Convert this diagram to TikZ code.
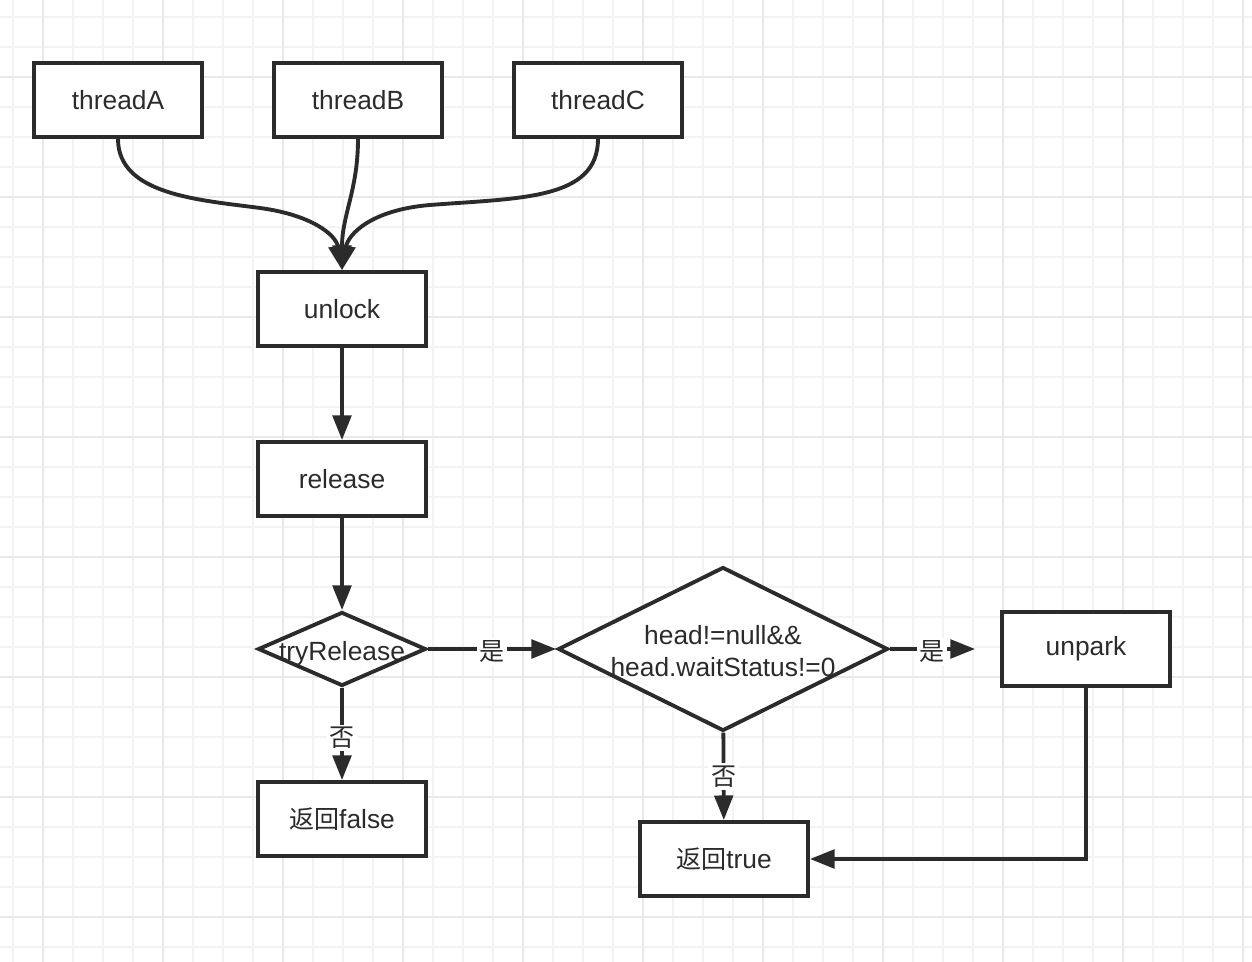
\documentclass[tikz,border=0pt]{standalone}
\usepackage{fontspec}
\setmainfont{Liberation Sans}
\newfontfamily\cjk[Scale=0.95]{Noto Sans CJK SC}
\usetikzlibrary{arrows.meta,shapes.geometric}
\definecolor{ink}{HTML}{2B2B2B}
\definecolor{gridmin}{HTML}{F3F3F3}
\definecolor{gridmaj}{HTML}{E8E8E8}

\begin{document}
\begin{tikzpicture}[x=0.02cm, y=-0.02cm, >={Triangle[length=14pt,width=10.5pt]},
    font=\fontsize{15pt}{18pt}\selectfont,
    box/.style={draw=ink, line width=2.2pt, fill=white, text=ink,
      minimum width=3.36cm, minimum height=1.48cm, inner sep=0pt},
    choice/.style={diamond, draw=ink, line width=2.2pt, fill=white, text=ink,
      inner sep=0pt, aspect=2.2},
    flow/.style={->, draw=ink, line width=2.2pt},
    lbl/.style={fill=white, inner sep=1.5pt, text=ink, font=\fontsize{15pt}{18pt}\cjk}]
  % paper and grid
  \useasboundingbox[fill=white] (0,0) rectangle (1252,962);
  \foreach \x in {13,43,...,1252}
    \draw[gridmin, line width=0.7pt] (\x,0) -- (\x,962);
  \foreach \y in {17,47,...,962}
    \draw[gridmin, line width=0.7pt] (0,\y) -- (1252,\y);
  \foreach \x in {43,163,...,1252}
    \draw[gridmaj, line width=1pt] (\x,0) -- (\x,962);
  \foreach \y in {77,197,...,962}
    \draw[gridmaj, line width=1pt] (0,\y) -- (1252,\y);
  % threads
  \node[box] (tA) at (118,100) {threadA};
  \node[box] (tB) at (358,100) {threadB};
  \node[box] (tC) at (598,100) {threadC};
  % main column
  \node[box] (unlock) at (342,309) {unlock};
  \node[box] (release) at (342,479) {release};
  \node[choice, minimum width=3.36cm, minimum height=1.48cm] (try) at (342,649)
    {\makebox[0pt]{\raisebox{-0.1cm}[\height][\depth]{tryRelease}}};
  \node[box] (rfalse) at (342,819) {{\cjk 返回}false};
  % right side
  \node[choice, minimum width=6.6cm, minimum height=3.28cm] (head) at (723,649)
    {\makebox[0pt]{\raisebox{-0.1cm}[\height][\depth]{\begin{tabular}{@{}c@{}}head!=null\&\&\\head.waitStatus!=0\end{tabular}}}};
  \node[box] (unpark) at (1086,649) {unpark};
  \node[box] (rtrue) at (724,859) {{\cjk 返回}true};
  % connectors
  \draw[flow] (tA.south) .. controls (118,195) and (200,200) .. (260,208)
    .. controls (312,215) and (336,235) .. (unlock.north);
  \draw[flow] (tB.south) .. controls (358,190) and (342,215) .. (unlock.north);
  \draw[flow] (tC.south) .. controls (598,200) and (520,198) .. (430,205)
    .. controls (370,210) and (348,235) .. (unlock.north);
  \draw[flow] (unlock) -- (release);
  \draw[flow] (release) -- (try);
  \draw[flow] (try) -- node[lbl, yshift=-0.05cm] {是} (head);
  \draw[flow] (try) -- node[lbl, yshift=-0.08cm] {否} (rfalse);
  \draw[flow, shorten >=0.5cm] (head) -- node[lbl, pos=0.38, yshift=-0.05cm] {是} (unpark);
  \draw[flow] (head) -- node[lbl] {否} (rtrue);
  \draw[flow] (unpark.south) |- (rtrue.east);
\end{tikzpicture}
\end{document}
